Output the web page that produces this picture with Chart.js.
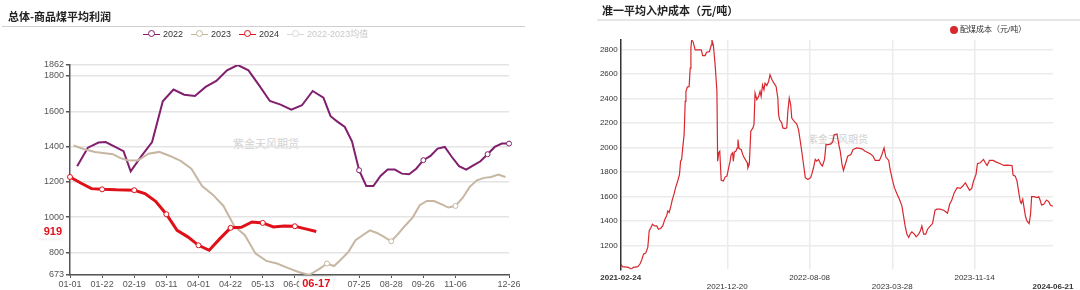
<!DOCTYPE html>
<html>
<head>
<meta charset="utf-8">
<script src="https://cdn.jsdelivr.net/npm/chart.js@4.4.1/dist/chart.umd.min.js"></script>
<style>
  body { margin: 0; background: #fff; }
  #wrap { position: relative; width: 1080px; height: 290px; overflow: hidden; font-family: "Noto Sans CJK SC", "Liberation Sans", sans-serif; }
  .abs { position: absolute; white-space: nowrap; }
  .title { font-weight: bold; font-size: 11px; line-height: 12px; color: #222; }
  .mark { color: #d2d2d2; transform: translate(-50%, -50%); }
  .leg { display: flex; align-items: center; font-family: "Liberation Sans", "Noto Sans CJK SC", sans-serif; font-size: 9px; color: #333; line-height: 10px; }
  .leg span.item { display: flex; align-items: center; margin-right: 8px; }
  .ico { position: relative; width: 17px; height: 9px; margin-right: 3px; }
  .ico:before { content: ""; position: absolute; left: 0; right: 0; top: 4px; height: 1.5px; background: var(--c); }
  .ico:after { content: ""; position: absolute; left: 4.5px; top: 0.5px; width: 5px; height: 5px; border: 1.5px solid var(--c); border-radius: 50%; background: #fff; }
  canvas { position: absolute; top: 0; }
</style>
</head>
<body>
<div id="wrap">
  <div class="abs mark" style="left:266px;top:143px;font-size:11px">紫金天风期货</div>
  <div class="abs mark" style="left:838px;top:138px;font-size:10px">紫金天风期货</div>

  <canvas id="profit" width="540" height="290" style="left:0"></canvas>
  <canvas id="cost" width="540" height="290" style="left:540px"></canvas>

  <div class="abs title" style="left:8px;top:10px">总体-商品煤平均利润</div>
  <div class="abs" style="left:2px;top:26px;width:523px;height:1px;background:#cfcfcf"></div>
  <div class="abs leg" id="profitLegend" style="left:143px;top:29px"></div>

  <div class="abs title" style="left:602px;top:4px">准一平均入炉成本（元/吨）</div>
  <div class="abs" style="left:597px;top:19px;width:483px;height:2px;background:#e6e6e6"></div>
  <div class="abs leg" style="left:950px;top:25px;font-size:8px;color:#333">
    <span style="display:inline-block;width:8px;height:8px;border-radius:50%;background:#d7282f;margin-right:2px"></span>配煤成本（元/吨）
  </div>
</div>

<script>
// ---------- left: 总体-商品煤平均利润 (weekly, Mondays) ----------
function mondays(first, last, skip) {
  const out = [];
  const d = new Date(first + "T00:00:00Z");
  const end = new Date(last + "T00:00:00Z");
  while (d <= end) {
    const s = d.toISOString().slice(5, 10);
    if (!skip.includes(s)) out.push(s);
    d.setUTCDate(d.getUTCDate() + 7);
  }
  return out;
}

const dates2022 = mondays("2022-01-03", "2022-12-26", ["01-31", "10-03"]);
const dates2023 = mondays("2023-01-02", "2023-12-25", ["01-23", "10-02"]);
const dates2024 = mondays("2024-01-01", "2024-06-17", ["02-12"]);

const profit2022 = [
  1289, 1394, 1423, 1426, 1374, 1260,
  1346, 1426, 1657, 1723, 1694, 1687, 1738, 1772, 1832, 1862, 1832, 1747, 1658, 1638, 1609, 1634, 1715, 1677,
  1572, 1540, 1511, 1430, 1266, 1177, 1177, 1234, 1270, 1270, 1247, 1243, 1275, 1323,
  1347, 1389, 1398, 1341, 1289, 1270, 1294, 1317, 1357, 1398, 1417, 1417
];
const profit2023 = [
  1406, 1385, 1370, 1357, 1336, 1323,
  1321, 1360, 1370, 1347, 1319, 1275, 1177, 1128, 1064, 951, 898, 794, 753, 738, 713, 690, 673, 709,
  738, 724, 762, 804, 870, 898, 926, 911, 889, 864, 907, 955, 998, 1068,
  1092, 1092, 1074, 1055, 1064, 1109, 1172, 1209, 1223, 1228, 1242, 1228
];
const profit2024 = [
  1228, 1194, 1162, 1158, 1157, 1155,
  1153, 1134, 1090, 1017, 926, 889, 841, 813, 879, 940, 943, 973, 968, 945, 951, 949, 934, 919
];

const seriesNames = ["2022", "2023", "2024", "2022-2023均值"];
const seriesColors = ["#801f6e", "#c6b6a2", "#e0101a", "#d8d8d8"];

const xTickLabels = ["01-01", "01-22", "02-19", "03-11", "04-01", "04-22", "05-13", "06-03",
                     "07-25", "08-28", "09-26", "11-06", "12-26"];
const yTicks = [800, 1000, 1200, 1400, 1600, 1800];

const cats = [...new Set([...dates2022, ...dates2023, ...dates2024])].sort();
function align(dates, vals) {
  const m = new Map(dates.map((d, i) => [d, vals[i]]));
  return cats.map(c => (m.has(c) ? m.get(c) : null));
}

const allProfit = [...profit2022, ...profit2023, ...profit2024];
const yMin = Math.min(...allProfit);
const yMax = Math.max(...allProfit);
const lastDate = dates2024[dates2024.length - 1];
const lastValue = profit2024[profit2024.length - 1];

const legendBox = document.getElementById("profitLegend");
seriesNames.forEach((n, i) => {
  const it = document.createElement("span");
  it.className = "item";
  if (i === 3) it.style.color = "#c8c8c8";
  it.innerHTML = '<span class="ico" style="--c:' + seriesColors[i] + '"></span>' + n;
  legendBox.appendChild(it);
});

const markerRadius = ctx =>
  ctx.raw != null && (ctx.dataIndex % 9 === 0 || ctx.dataIndex === cats.length - 1) ? 2.5 : 0;

const lastMarks = {
  id: "lastMarks",
  afterDraw(chart) {
    const { ctx, scales: { x, y } } = chart;
    ctx.save();
    ctx.font = 'bold 11px "Liberation Sans", sans-serif';
    ctx.textBaseline = "middle";

    const px = x.getPixelForValue(cats.indexOf(lastDate));
    const w = ctx.measureText(lastDate).width + 6;
    ctx.fillStyle = "#fff";
    ctx.shadowColor = "rgba(0,0,0,0.2)";
    ctx.shadowBlur = 3;
    ctx.fillRect(px - w / 2, y.bottom + 2, w, 14);
    ctx.shadowBlur = 0;
    ctx.fillStyle = seriesColors[2];
    ctx.textAlign = "center";
    ctx.fillText(lastDate, px, y.bottom + 9);

    const py = y.getPixelForValue(lastValue);
    const t = String(lastValue);
    const w2 = ctx.measureText(t).width + 6;
    ctx.fillStyle = "#fff";
    ctx.shadowBlur = 3;
    ctx.fillRect(x.left - 8 - w2, py - 7, w2, 14);
    ctx.shadowBlur = 0;
    ctx.fillStyle = seriesColors[2];
    ctx.textAlign = "right";
    ctx.fillText(t, x.left - 8, py);
    ctx.restore();
  }
};

const font9 = { family: '"Liberation Sans", sans-serif', size: 9 };
const plain = v => String(v);

new Chart(document.getElementById("profit"), {
  type: "line",
  data: {
    labels: cats,
    datasets: [
      { label: seriesNames[0], data: align(dates2022, profit2022), borderColor: seriesColors[0], borderWidth: 2 },
      { label: seriesNames[1], data: align(dates2023, profit2023), borderColor: seriesColors[1], borderWidth: 2 },
      { label: seriesNames[2], data: align(dates2024, profit2024), borderColor: seriesColors[2], borderWidth: 3 },
      { label: seriesNames[3], data: [], borderColor: seriesColors[3], hidden: true }
    ].map((d, i) => Object.assign(d, {
      spanGaps: true, tension: 0, order: 3 - i,
      pointRadius: markerRadius, pointBackgroundColor: "#fff",
      pointBorderColor: d.borderColor, pointBorderWidth: 1
    }))
  },
  options: {
    responsive: false,
    animation: false,
    layout: { padding: { top: 65, right: 31, left: 0, bottom: 0 } },
    plugins: { legend: { display: false }, tooltip: { enabled: false } },
    scales: {
      x: {
        offset: false,
        afterBuildTicks: s => { s.ticks = xTickLabels.map(l => ({ value: cats.indexOf(l) })); },
        afterFit: s => { s.height = 15; },
        ticks: { autoSkip: false, maxRotation: 0, color: "#555", font: font9, padding: 1 },
        grid: { drawOnChartArea: false, tickLength: 3, tickColor: "#555" },
        border: { color: "#555", width: 1.5 }
      },
      y: {
        min: yMin,
        max: yMax,
        afterBuildTicks: s => { s.ticks = [yMin, ...yTicks, yMax].map(v => ({ value: v })); },
        afterFit: s => { s.width = 70; },
        ticks: { color: "#555", font: font9, padding: 2, callback: plain },
        grid: { color: "#e4e4e4", lineWidth: 1.5, tickLength: 4, tickColor: "#555" },
        border: { color: "#555", width: 1.5 }
      }
    }
  },
  plugins: [lastMarks]
});

// ---------- right: 准一平均入炉成本 (days since 2021-02-24) ----------
const costStart = "2021-02-24";
const costDay = [
  0, 5, 22, 29, 36, 48, 54, 59, 64, 70, 76, 80, 85, 89, 95, 101, 106, 112, 118, 124,
  129, 132, 136, 141, 145, 150, 154, 160, 165, 168, 171, 174, 178, 181, 183, 187, 192, 195, 197, 199,
  203, 209, 216, 226, 230, 237, 241, 249, 254, 256, 260, 265, 270, 272, 275, 278, 282, 288, 293, 298,
  302, 307, 310, 314, 316, 319, 323, 327, 329, 332, 338, 344, 351, 355, 357, 361, 365, 371, 374, 377,
  382, 387, 391, 394, 398, 402, 405, 410, 415, 419, 424, 430, 436, 441, 443, 446, 452, 455, 461, 466,
  469, 473, 477, 480, 487, 494, 499, 504, 508, 513, 518, 525, 533, 536, 541, 546, 550, 555, 562, 566,
  572, 576, 583, 590, 595, 599, 607, 612, 616, 621, 625, 630, 637, 646, 652, 663, 677, 686, 700, 708,
  714, 726, 733, 739, 744, 752, 756, 762, 768, 775, 782, 789, 794, 798, 803, 808, 813, 817, 824, 829,
  836, 841, 845, 850, 856, 861, 869, 875, 882, 887, 897, 906, 911, 917, 923, 929, 936, 944, 953, 960,
  967, 973, 979, 985, 990, 997, 1001, 1009, 1018, 1023, 1028, 1035, 1045, 1054, 1065, 1075, 1084, 1098, 1101, 1107,
  1112, 1117, 1121, 1124, 1128, 1131, 1136, 1140, 1146, 1150, 1153, 1159, 1169, 1173, 1176, 1181, 1187, 1195, 1201, 1206,
  1213
];
const cost = [
  1049, 1028, 1022, 1006, 1022, 1028, 1049, 1082, 1130, 1138, 1184, 1320, 1347, 1374, 1360, 1360, 1333, 1339, 1360, 1415,
  1442, 1482, 1469, 1523, 1577, 1623, 1672, 1726, 1780, 1888, 1902, 1996, 2104, 2375, 2456, 2492, 2497, 2646, 2808, 2876,
  2862, 2795, 2795, 2795, 2749, 2749, 2776, 2781, 2835, 2876, 2835, 2673, 2456, 1888, 1956, 1969, 1731, 1726, 1758, 1766,
  1820, 1888, 1942, 1956, 1888, 1964, 1969, 1996, 2064, 1991, 1983, 1929, 1894, 1875, 1834, 1866, 2132, 2159, 2186, 2443,
  2389, 2416, 2456, 2416, 2510, 2470, 2524, 2505, 2538, 2592, 2556, 2524, 2497, 2402, 2267, 2226, 2199, 2159, 2153, 2159,
  2294, 2402, 2348, 2240, 2213, 2191, 2145, 2050, 1969, 1861, 1753, 1739, 1753, 1780, 1834, 1902, 1888, 1902, 1861, 1848,
  1902, 2023, 2023, 2029, 2045, 2104, 2110, 2023, 1969, 1861, 1812, 1861, 1929, 1942, 1983, 1996, 1988, 1969, 1948, 1929,
  1894, 1894, 1942, 1996, 1921, 1894, 1820, 1739, 1672, 1623, 1577, 1523, 1434, 1360, 1293, 1266, 1298, 1312, 1293, 1271,
  1293, 1320, 1360, 1293, 1293, 1333, 1360, 1379, 1488, 1496, 1496, 1488, 1477, 1463, 1536, 1571, 1631, 1672, 1666, 1685,
  1712, 1680, 1650, 1666, 1726, 1780, 1867, 1875, 1902, 1875, 1853, 1894, 1894, 1880, 1867, 1853, 1856, 1853, 1775, 1766,
  1726, 1631, 1563, 1544, 1577, 1523, 1434, 1401, 1379, 1455, 1598, 1598, 1590, 1598, 1577, 1531, 1536, 1571, 1558, 1528,
  1520
];
const costTickLabels = ["2021-02-24", "2021-12-20", "2022-08-08", "2023-03-28", "2023-11-14", "2024-06-21"];
const costYTicks = [1200, 1400, 1600, 1800, 2000, 2200, 2400, 2600, 2800];

const costTickDays = costTickLabels.map(d => (Date.parse(d) - Date.parse(costStart)) / 864e5);
const nTicks = costTickLabels.length;
const edge = i => i === 0 || i === nTicks - 1;

new Chart(document.getElementById("cost"), {
  type: "line",
  data: {
    datasets: [{
      label: "配煤成本（元/吨）",
      data: costDay.map((d, i) => ({ x: d, y: cost[i] })),
      borderColor: "#d7282f",
      borderWidth: 1.2,
      pointRadius: 0,
      tension: 0
    }]
  },
  options: {
    responsive: false,
    animation: false,
    layout: { padding: { top: 40, right: 27, left: 0, bottom: 0 } },
    plugins: { legend: { display: false }, tooltip: { enabled: false } },
    scales: {
      x: {
        type: "linear",
        min: 0,
        max: costTickDays[nTicks - 1],
        afterBuildTicks: s => { s.ticks = costTickDays.map(v => ({ value: v })); },
        afterFit: s => { s.height = 20.7; },
        ticks: {
          autoSkip: false,
          maxRotation: 0,
          padding: 4.5,
          color: "#333",
          callback: (v, i) => (i % 2 ? ["", costTickLabels[i]] : costTickLabels[i]),
          font: c => ({ family: '"Liberation Sans", sans-serif', size: 8, lineHeight: 1.05, weight: edge(c.index) ? "bold" : "normal" })
        },
        grid: { color: c => (edge(c.index) ? "rgba(0,0,0,0)" : "#ebebeb"), lineWidth: 1.5, drawTicks: false },
        border: { display: false }
      },
      y: {
        min: Math.min(...cost),
        max: Math.max(...cost),
        afterBuildTicks: s => { s.ticks = costYTicks.map(v => ({ value: v })); },
        afterFit: s => { s.width = 80.7; },
        ticks: { color: "#333", font: { family: '"Liberation Sans", sans-serif', size: 8 }, padding: 3, callback: plain },
        grid: { color: "#ebebeb", lineWidth: 1.5, drawTicks: false },
        border: { color: "#333", width: 1.5 }
      }
    }
  }
});
</script>
</body>
</html>
